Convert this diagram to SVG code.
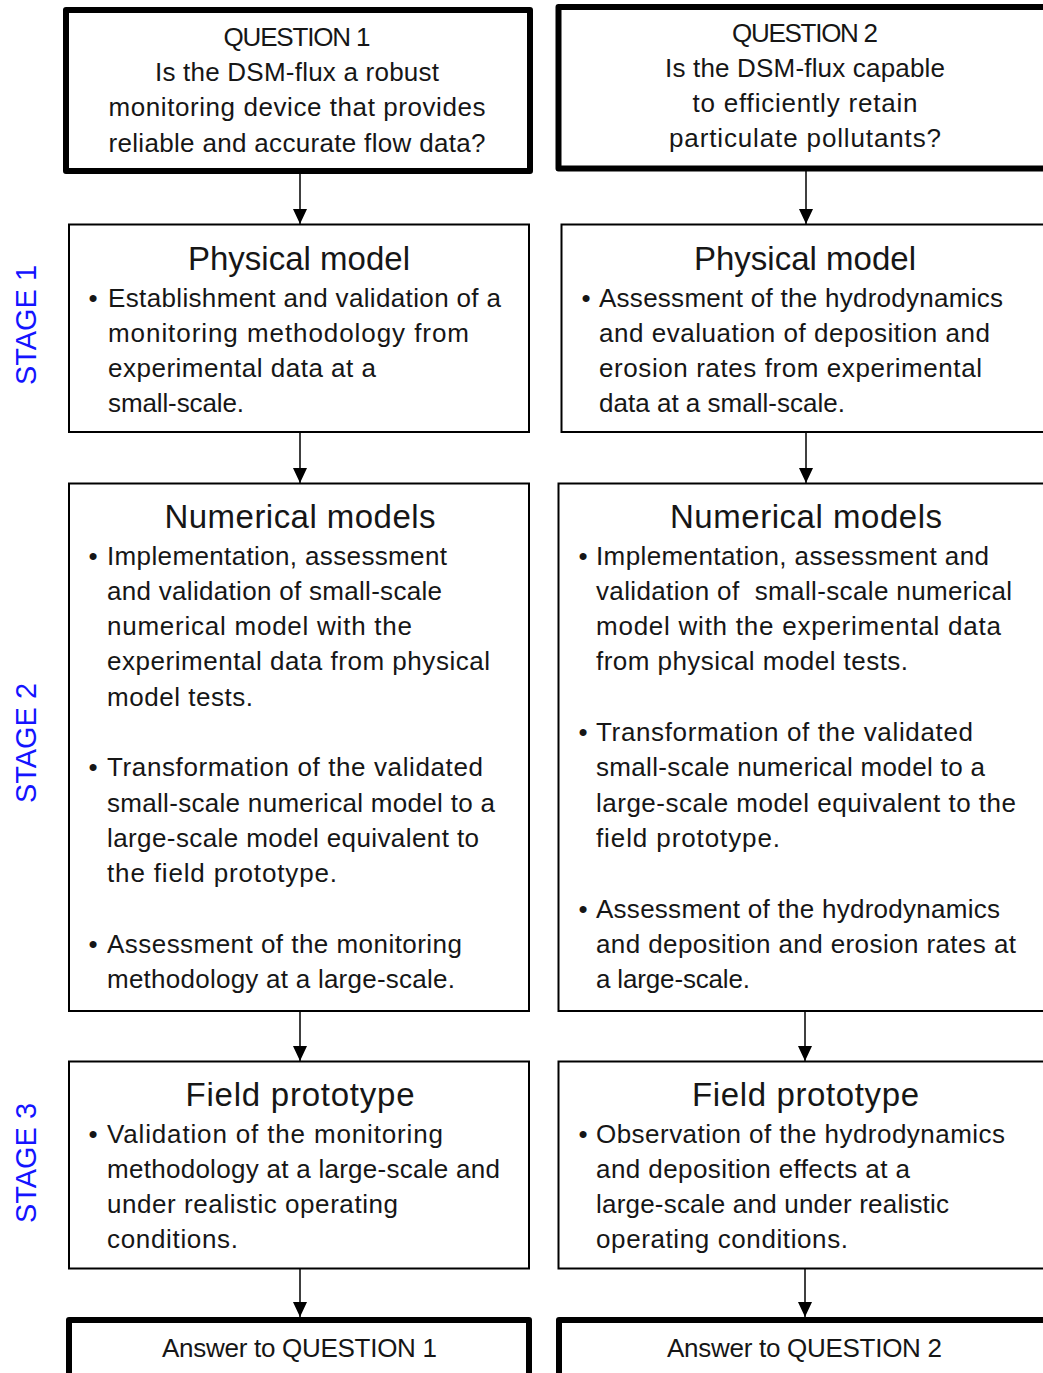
<svg xmlns="http://www.w3.org/2000/svg" width="1043" height="1373" viewBox="0 0 1043 1373">
<defs>
<style>
.t{font-family:"Liberation Sans",Arial,sans-serif;fill:#161616}
.q{font-size:26px;text-anchor:middle}
.h{font-size:33px;text-anchor:middle}
.b{font-size:26px}
.bu{font-size:26px;text-anchor:middle}
.st{font-family:"Liberation Sans",Arial,sans-serif;font-size:30px;fill:#1414ff;text-anchor:middle}
.thick{fill:#fff;stroke:#000;stroke-width:6;stroke-linejoin:round}
.box{fill:#fff;stroke:#000;stroke-width:2}
.conn line{stroke:#000;stroke-width:1.5}
</style>
<marker id="arr" markerUnits="userSpaceOnUse" markerWidth="16" markerHeight="14" refX="15" refY="7" orient="auto" viewBox="0 0 16 14">
<path d="M0,0 L15,7 L0,14 Z" fill="#000"/>
</marker>
</defs>
<rect width="1043" height="1373" fill="#fff"/>

<g id="stages">
<text class="st" transform="translate(36 325) rotate(-90)" textLength="120" lengthAdjust="spacingAndGlyphs">STAGE 1</text>
<text class="st" transform="translate(36 743) rotate(-90)" textLength="120" lengthAdjust="spacingAndGlyphs">STAGE 2</text>
<text class="st" transform="translate(36 1163) rotate(-90)" textLength="120" lengthAdjust="spacingAndGlyphs">STAGE 3</text>
</g>

<g class="conn" id="connectors">
<line x1="300" y1="174" x2="300" y2="224" marker-end="url(#arr)"/>
<line x1="806" y1="171" x2="806" y2="224" marker-end="url(#arr)"/>
<line x1="300" y1="432" x2="300" y2="483" marker-end="url(#arr)"/>
<line x1="806" y1="432" x2="806" y2="483" marker-end="url(#arr)"/>
<line x1="300" y1="1011" x2="300" y2="1061" marker-end="url(#arr)"/>
<line x1="805" y1="1011" x2="805" y2="1061" marker-end="url(#arr)"/>
<line x1="300" y1="1269" x2="300" y2="1317" marker-end="url(#arr)"/>
<line x1="805" y1="1269" x2="805" y2="1317" marker-end="url(#arr)"/>
</g>

<g id="q1">
<rect class="thick" x="66" y="10" width="464" height="161"/>
<text class="t q" x="297" y="45.5" textLength="147">QUESTION 1</text>
<text class="t q" x="297" y="81" textLength="284">Is the DSM-flux a robust</text>
<text class="t q" x="297" y="116.3" textLength="377">monitoring device that provides</text>
<text class="t q" x="297" y="151.6" textLength="377">reliable and accurate flow data?</text>
</g>

<g id="q2">
<rect class="thick" x="558.5" y="7" width="500" height="161.5"/>
<text class="t q" x="805" y="42" textLength="146">QUESTION 2</text>
<text class="t q" x="805" y="77" textLength="280">Is the DSM-flux capable</text>
<text class="t q" x="805" y="112" textLength="225">to efficiently retain</text>
<text class="t q" x="805" y="146.5" textLength="272">particulate pollutants?</text>
</g>

<g id="phys1">
<rect class="box" x="69" y="224.5" width="460" height="207.5"/>
<text class="t h" x="299" y="270" textLength="222">Physical model</text>
<text class="t bu" x="93" y="306.5">•</text>
<text class="t b" x="108" y="306.5" textLength="393">Establishment and validation of a</text>
<text class="t b" x="108" y="341.8" textLength="361">monitoring methodology from</text>
<text class="t b" x="108" y="377.1" textLength="268">experimental data at a</text>
<text class="t b" x="108" y="412.4" textLength="136">small-scale.</text>
</g>

<g id="phys2">
<rect class="box" x="561.5" y="224.5" width="500" height="207.5"/>
<text class="t h" x="805" y="270" textLength="222">Physical model</text>
<text class="t bu" x="586" y="306.5">•</text>
<text class="t b" x="599" y="306.5" textLength="404">Assessment of the hydrodynamics</text>
<text class="t b" x="599" y="341.8" textLength="391">and evaluation of deposition and</text>
<text class="t b" x="599" y="377.1" textLength="383">erosion rates from experimental</text>
<text class="t b" x="599" y="412.4" textLength="246">data at a small-scale.</text>
</g>

<g id="num1">
<rect class="box" x="69" y="483.5" width="460" height="527.5"/>
<text class="t h" x="300" y="528" textLength="271">Numerical models</text>
<text class="t bu" x="93" y="564.5">•</text>
<text class="t b" x="107" y="564.5" textLength="340">Implementation, assessment</text>
<text class="t b" x="107" y="599.8" textLength="335">and validation of small-scale</text>
<text class="t b" x="107" y="635.1" textLength="305">numerical model with the</text>
<text class="t b" x="107" y="670.4" textLength="383">experimental data from physical</text>
<text class="t b" x="107" y="705.7" textLength="146">model tests.</text>
<text class="t bu" x="93" y="776.3">•</text>
<text class="t b" x="107" y="776.3" textLength="376">Transformation of the validated</text>
<text class="t b" x="107" y="811.6" textLength="388">small-scale numerical model to a</text>
<text class="t b" x="107" y="846.9" textLength="372">large-scale model equivalent to</text>
<text class="t b" x="107" y="882.2" textLength="230">the field prototype.</text>
<text class="t bu" x="93" y="952.8">•</text>
<text class="t b" x="107" y="952.8" textLength="355">Assessment of the monitoring</text>
<text class="t b" x="107" y="988.1" textLength="348">methodology at a large-scale.</text>
</g>

<g id="num2">
<rect class="box" x="558.5" y="483.5" width="500" height="527.5"/>
<text class="t h" x="806" y="528" textLength="272">Numerical models</text>
<text class="t bu" x="583" y="564.5">•</text>
<text class="t b" x="596" y="564.5" textLength="393">Implementation, assessment and</text>
<text class="t b" x="596" y="599.8" textLength="416" xml:space="preserve">validation of  small-scale numerical</text>
<text class="t b" x="596" y="635.1" textLength="405">model with the experimental data</text>
<text class="t b" x="596" y="670.4" textLength="312">from physical model tests.</text>
<text class="t bu" x="583" y="741">•</text>
<text class="t b" x="596" y="741" textLength="377">Transformation of the validated</text>
<text class="t b" x="596" y="776.3" textLength="389">small-scale numerical model to a</text>
<text class="t b" x="596" y="811.6" textLength="420">large-scale model equivalent to the</text>
<text class="t b" x="596" y="846.9" textLength="184">field prototype.</text>
<text class="t bu" x="583" y="917.5">•</text>
<text class="t b" x="596" y="917.5" textLength="404">Assessment of the hydrodynamics</text>
<text class="t b" x="596" y="952.8" textLength="420">and deposition and erosion rates at</text>
<text class="t b" x="596" y="988.1" textLength="154">a large-scale.</text>
</g>

<g id="field1">
<rect class="box" x="69" y="1061.5" width="460" height="207"/>
<text class="t h" x="300" y="1105.5" textLength="229">Field prototype</text>
<text class="t bu" x="93" y="1142.5">•</text>
<text class="t b" x="107" y="1142.5" textLength="336">Validation of the monitoring</text>
<text class="t b" x="107" y="1177.8" textLength="393">methodology at a large-scale and</text>
<text class="t b" x="107" y="1213.1" textLength="291">under realistic operating</text>
<text class="t b" x="107" y="1248.4" textLength="131">conditions.</text>
</g>

<g id="field2">
<rect class="box" x="558.5" y="1061.5" width="500" height="207"/>
<text class="t h" x="805.5" y="1105.5" textLength="227">Field prototype</text>
<text class="t bu" x="583" y="1142.5">•</text>
<text class="t b" x="596" y="1142.5" textLength="409">Observation of the hydrodynamics</text>
<text class="t b" x="596" y="1177.8" textLength="314">and deposition effects at a</text>
<text class="t b" x="596" y="1213.1" textLength="353">large-scale and under realistic</text>
<text class="t b" x="596" y="1248.4" textLength="252">operating conditions.</text>
</g>

<g id="ans1">
<rect class="thick" x="69" y="1320" width="460" height="100"/>
<text class="t q" x="299.5" y="1357" textLength="275">Answer to QUESTION 1</text>
</g>

<g id="ans2">
<rect class="thick" x="559" y="1320" width="500" height="100"/>
<text class="t q" x="804.5" y="1357" textLength="275">Answer to QUESTION 2</text>
</g>
</svg>
